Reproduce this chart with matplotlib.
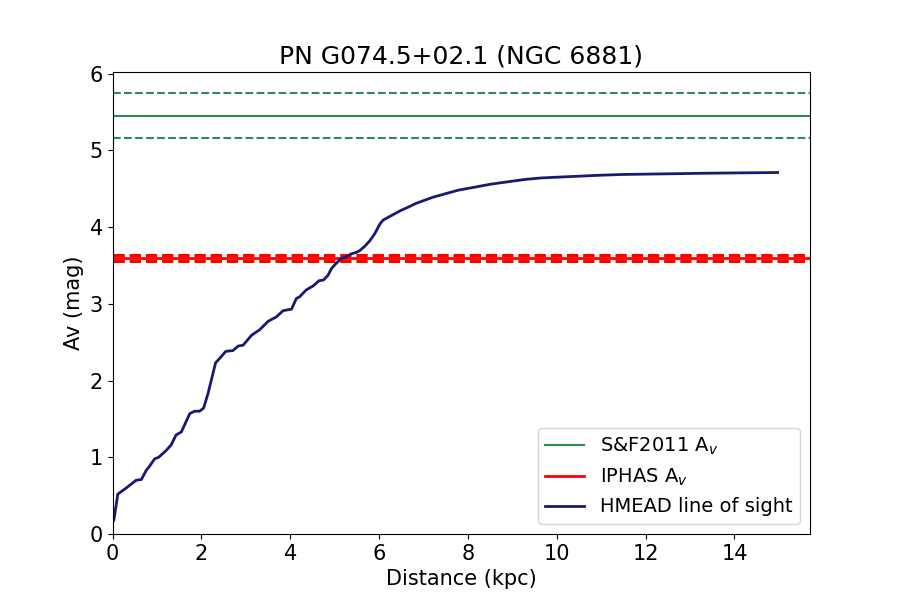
import matplotlib
matplotlib.use("Agg")
import matplotlib.pyplot as plt
import numpy as np

title = "PN G074.5+02.1 (NGC 6881)"
sf_av = 5.45
sf_err = 0.29
iphas_av = 3.595
iphas_err = 0.035

dist = [0.03, 0.12, 0.31, 0.53, 0.65, 0.76, 0.83, 0.95, 1.04, 1.21, 1.32, 1.43, 1.55,
        1.74, 1.85, 1.96, 2.05, 2.15, 2.32, 2.43, 2.55, 2.71, 2.83, 2.94, 3.13, 3.31,
        3.50, 3.69, 3.84, 4.03, 4.14, 4.21, 4.36, 4.51, 4.65, 4.75, 4.85, 4.93, 5.04,
        5.15, 5.26, 5.37, 5.49, 5.56, 5.68, 5.79, 5.90, 6.02, 6.09, 6.28, 6.47, 6.66,
        6.84, 7.03, 7.22, 7.41, 7.78, 8.16, 8.53, 8.91, 9.28, 9.66, 10.03, 10.41,
        10.98, 11.5, 12.1, 12.7, 13.22, 14.0, 14.97]
av = [0.18, 0.52, 0.60, 0.70, 0.71, 0.83, 0.88, 0.98, 1.00, 1.09, 1.16, 1.29, 1.33,
      1.57, 1.60, 1.60, 1.64, 1.83, 2.23, 2.30, 2.38, 2.39, 2.45, 2.46, 2.59, 2.66,
      2.77, 2.83, 2.91, 2.93, 3.07, 3.09, 3.18, 3.23, 3.30, 3.31, 3.37, 3.46, 3.53,
      3.59, 3.61, 3.65, 3.67, 3.69, 3.75, 3.82, 3.91, 4.04, 4.09, 4.15, 4.21, 4.26,
      4.31, 4.35, 4.39, 4.42, 4.48, 4.52, 4.56, 4.59, 4.62, 4.64, 4.65, 4.66,
      4.675, 4.685, 4.69, 4.695, 4.70, 4.705, 4.71]

fig, ax = plt.subplots(figsize=(9, 6), dpi=100)

ax.axhline(sf_av, color="seagreen", lw=1.5, label="S&F2011 A$_v$")
ax.axhline(sf_av + sf_err, color="seagreen", lw=1.5, ls="--")
ax.axhline(sf_av - sf_err, color="seagreen", lw=1.5, ls="--")

ax.axhline(iphas_av, color="red", lw=2, label="IPHAS A$_v$")
ax.axhline(iphas_av + iphas_err, color="red", lw=2.2, ls="--")
ax.axhline(iphas_av - iphas_err, color="red", lw=2.2, ls="--")

ax.plot(dist, av, color="midnightblue", lw=2, label="HMEAD line of sight")

ax.set_xlim(0, 15.7)
ax.set_ylim(0, 6.02)
ax.set_xlabel("Distance (kpc)", fontsize=15)
ax.set_ylabel("Av (mag)", fontsize=15)
ax.set_title(title, fontsize=18)
ax.tick_params(labelsize=15)
ax.legend(loc="lower right", fontsize=14)

fig.savefig("out.png", dpi=100)
